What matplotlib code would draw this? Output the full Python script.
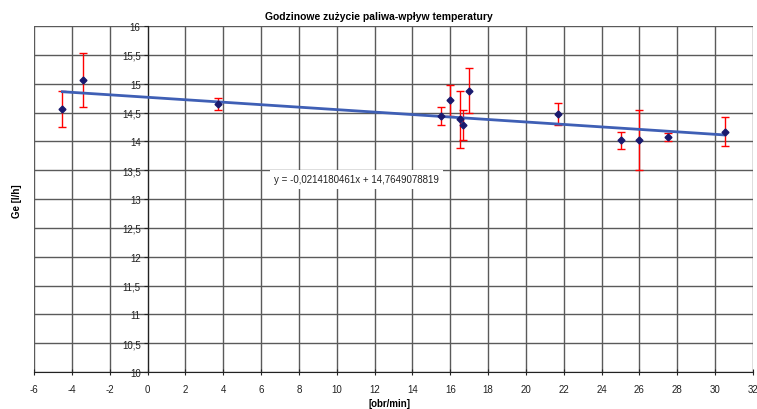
import numpy as np
import matplotlib.pyplot as plt
from matplotlib.ticker import MultipleLocator, FuncFormatter

plt.rcParams['font.family'] = ['Liberation Sans', 'DejaVu Sans']
plt.rcParams['axes.unicode_minus'] = False

# odczyty z wykresu
temp = [-4.5, -3.4, 3.7, 15.5, 16.0, 16.5, 16.7, 17.0, 21.7, 25.0, 26.0, 27.5, 30.5]
ge = [14.56, 15.07, 14.65, 14.44, 14.71, 14.38, 14.28, 14.88, 14.47, 14.02, 14.03, 14.07, 14.17]
err = [0.31, 0.47, 0.11, 0.15, 0.27, 0.50, 0.26, 0.39, 0.19, 0.15, 0.52, 0.07, 0.25]

slope = -0.0214180461
intercept = 14.7649078819

fig = plt.figure(figsize=(7.57, 4.10), dpi=100)
ax = fig.add_axes([0.0449, 0.0902, 0.9498, 0.8438])

ax.set_xlim(-6, 32)
ax.set_ylim(10, 16)
ax.xaxis.set_major_locator(MultipleLocator(2))
ax.yaxis.set_major_locator(MultipleLocator(0.5))
ax.yaxis.set_major_formatter(FuncFormatter(lambda v, p: ('%g' % v).replace('.', ',')))

ax.grid(True, color='#5a5a5a', linewidth=1)
ax.set_axisbelow(True)

for s in ['top', 'right']:
    ax.spines[s].set_visible(False)
ax.spines['left'].set_position(('data', 0))
ax.spines['left'].set_color('#222222')
ax.spines['bottom'].set_color('#222222')

ax.tick_params(axis='both', labelsize=7, colors='#222222', length=3, width=0.8, pad=2)
ax.tick_params(axis='x', direction='inout', length=5, pad=6)

ax.errorbar(temp, ge, yerr=err, fmt='none', ecolor='#FF0000', elinewidth=1,
            capsize=3, capthick=1, zorder=3)

xl = np.array([min(temp), max(temp)])
ax.plot(xl, slope * xl + intercept, color='#3F5FB5', linewidth=2, zorder=4)

ax.plot(temp, ge, linestyle='none', marker='D', markersize=3.5,
        color='#1A1A6E', zorder=5)

ax.text(6.7, 13.34, 'y = -0,0214180461x + 14,7649078819', fontsize=7,
        color='#222222', va='center',
        bbox=dict(facecolor='white', edgecolor='none', pad=3))

fig.text(0.5, 0.958, 'Godzinowe zużycie paliwa-wpływ temperatury',
         ha='center', va='center', fontsize=7.5, fontweight='bold')
fig.text(0.515, 0.015, '[obr/min]', ha='center', va='center',
         fontsize=7, fontweight='bold')
fig.text(0.022, 0.51, 'Ge [l/h]', ha='center', va='center', rotation=90,
         fontsize=7, fontweight='bold')

fig.savefig('out.png', dpi=100)
